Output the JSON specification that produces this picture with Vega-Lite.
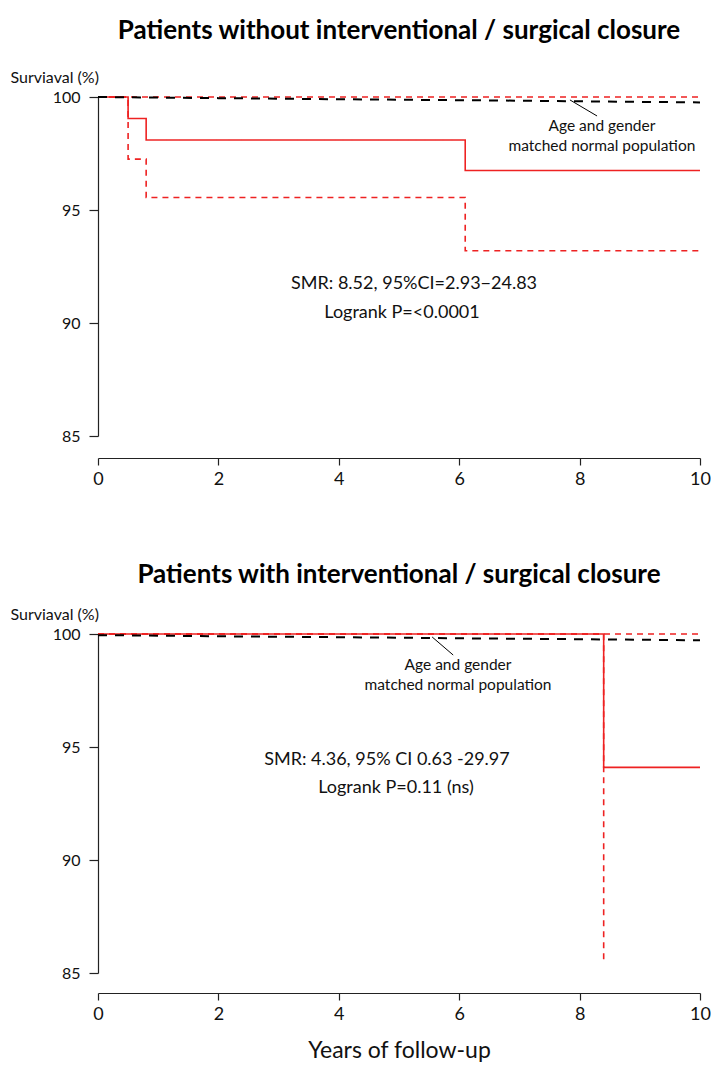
{
  "$schema": "https://vega.github.io/schema/vega-lite/v6.json",
  "background": "white",
  "padding": {"left": 10, "top": 18, "right": 0, "bottom": 0},
  "config": {
    "view": {"stroke": null},
    "font": "Lato",
    "axis": {"grid": false, "domainColor": "#222222", "tickColor": "#222222", "labelColor": "#111111", "titleColor": "#111111", "labelFont": "Lato", "titleFont": "Lato", "domainWidth": 1.2, "tickWidth": 1.2},
    "title": {"font": "Lato", "fontSize": 26, "fontWeight": "bold", "color": "#000000", "anchor": "middle"}
  },
  "datasets": {
    "curves": [
      {"panel": "top", "series": "km", "x": 0, "y": 100},
      {"panel": "top", "series": "km", "x": 0.5, "y": 99.05},
      {"panel": "top", "series": "km", "x": 0.8, "y": 98.1},
      {"panel": "top", "series": "km", "x": 6.1, "y": 96.75},
      {"panel": "top", "series": "km", "x": 10, "y": 96.75},
      {"panel": "top", "series": "lower", "x": 0, "y": 100},
      {"panel": "top", "series": "lower", "x": 0.5, "y": 97.25},
      {"panel": "top", "series": "lower", "x": 0.8, "y": 95.55},
      {"panel": "top", "series": "lower", "x": 6.1, "y": 93.2},
      {"panel": "top", "series": "lower", "x": 10, "y": 93.2},
      {"panel": "top", "series": "upper", "x": 0, "y": 100},
      {"panel": "top", "series": "upper", "x": 10, "y": 100},
      {"panel": "top", "series": "expected", "x": 0, "y": 100},
      {"panel": "top", "series": "expected", "x": 2, "y": 99.95},
      {"panel": "top", "series": "expected", "x": 4, "y": 99.9},
      {"panel": "top", "series": "expected", "x": 6, "y": 99.86},
      {"panel": "top", "series": "expected", "x": 8, "y": 99.81},
      {"panel": "top", "series": "expected", "x": 10, "y": 99.76},
      {"panel": "bottom", "series": "km", "x": 0, "y": 100},
      {"panel": "bottom", "series": "km", "x": 8.4, "y": 94.1},
      {"panel": "bottom", "series": "km", "x": 10, "y": 94.1},
      {"panel": "bottom", "series": "lower", "x": 0, "y": 100},
      {"panel": "bottom", "series": "lower", "x": 8.4, "y": 85.45},
      {"panel": "bottom", "series": "upper", "x": 0, "y": 100},
      {"panel": "bottom", "series": "upper", "x": 10, "y": 100},
      {"panel": "bottom", "series": "expected", "x": 0, "y": 99.95},
      {"panel": "bottom", "series": "expected", "x": 2, "y": 99.9},
      {"panel": "bottom", "series": "expected", "x": 4, "y": 99.86},
      {"panel": "bottom", "series": "expected", "x": 6, "y": 99.81},
      {"panel": "bottom", "series": "expected", "x": 8, "y": 99.77},
      {"panel": "bottom", "series": "expected", "x": 10, "y": 99.72}
    ],
    "notes": [
      {"panel": "top", "kind": "stat", "x": 5.25, "y": 91.73, "label": "SMR: 8.52, 95%CI=2.93\u221224.83"},
      {"panel": "top", "kind": "stat", "x": 5.05, "y": 90.44, "label": "Logrank P=<0.0001"},
      {"panel": "top", "kind": "note", "x": 8.37, "y": 98.72, "label": "Age and gender"},
      {"panel": "top", "kind": "note", "x": 8.37, "y": 97.83, "label": "matched normal population"},
      {"panel": "bottom", "kind": "stat", "x": 4.8, "y": 94.42, "label": "SMR: 4.36, 95% CI 0.63 -29.97"},
      {"panel": "bottom", "kind": "stat", "x": 4.95, "y": 93.19, "label": "Logrank P=0.11 (ns)"},
      {"panel": "bottom", "kind": "note", "x": 5.98, "y": 98.63, "label": "Age and gender"},
      {"panel": "bottom", "kind": "note", "x": 5.98, "y": 97.74, "label": "matched normal population"}
    ],
    "leaders": [
      {"panel": "top", "x": 7.84, "y": 99.87, "x2": 8.29, "y2": 99.16},
      {"panel": "bottom", "x": 5.55, "y": 99.87, "x2": 5.9, "y2": 99.07}
    ]
  },
  "spacing": 74,
  "vconcat": [
    {
      "width": 602,
      "height": 339,
      "title": {"text": "Patients without interventional / surgical closure", "offset": 25},
      "layer": [
        {
          "data": {"name": "curves"},
          "transform": [{"filter": "datum.panel === 'top' && datum.series !== 'expected'"}],
          "mark": {"type": "line", "interpolate": "step-after", "strokeWidth": 1.6, "color": "#ee2222"},
          "encoding": {
            "x": {"field": "x", "type": "quantitative", "scale": {"domain": [0, 10], "nice": false},
              "axis": {"values": [0, 2, 4, 6, 8, 10], "format": "d", "offset": 22, "tickSize": 7, "labelFontSize": 18, "labelPadding": 5, "labelFlush": false, "title": null}},
            "y": {"field": "y", "type": "quantitative", "scale": {"domain": [85, 100], "nice": false, "zero": false},
              "axis": {"values": [85, 90, 95, 100], "format": "d", "tickSize": 9, "labelFontSize": 16, "labelPadding": 9, "title": "Surviaval (%)", "titleAngle": 0, "titleAlign": "left", "titleBaseline": "middle", "titleX": -88, "titleY": -20, "titleFontSize": 16, "titleFontWeight": "normal"}},
            "strokeDash": {"field": "series", "type": "nominal", "scale": {"domain": ["lower", "upper", "km"], "range": [[6, 5], [6, 5], [1, 0]]}, "legend": null}
          }
        },
        {
          "data": {"name": "curves"},
          "transform": [{"filter": "datum.panel === 'top' && datum.series === 'expected'"}],
          "mark": {"type": "line", "strokeWidth": 2, "color": "#000000", "strokeDash": [9, 8]},
          "encoding": {
            "x": {"field": "x", "type": "quantitative"},
            "y": {"field": "y", "type": "quantitative"}
          }
        },
        {
          "data": {"name": "leaders"},
          "transform": [{"filter": "datum.panel === 'top'"}],
          "mark": {"type": "rule", "color": "#000000", "strokeWidth": 1},
          "encoding": {
            "x": {"field": "x", "type": "quantitative"},
            "y": {"field": "y", "type": "quantitative"},
            "x2": {"field": "x2"},
            "y2": {"field": "y2"}
          }
        },
        {
          "data": {"name": "notes"},
          "transform": [{"filter": "datum.panel === 'top' && datum.kind === 'stat'"}],
          "mark": {"type": "text", "align": "center", "baseline": "middle", "color": "#111111", "font": "Lato", "fontSize": 18},
          "encoding": {
            "x": {"field": "x", "type": "quantitative"},
            "y": {"field": "y", "type": "quantitative"},
            "text": {"field": "label"}
          }
        },
        {
          "data": {"name": "notes"},
          "transform": [{"filter": "datum.panel === 'top' && datum.kind === 'note'"}],
          "mark": {"type": "text", "align": "center", "baseline": "middle", "color": "#111111", "font": "Lato", "fontSize": 15.5},
          "encoding": {
            "x": {"field": "x", "type": "quantitative"},
            "y": {"field": "y", "type": "quantitative"},
            "text": {"field": "label"}
          }
        }
      ]
    },
    {
      "width": 602,
      "height": 339,
      "title": {"text": "Patients with interventional / surgical closure", "offset": 18},
      "layer": [
        {
          "data": {"name": "curves"},
          "transform": [{"filter": "datum.panel === 'bottom' && datum.series !== 'expected'"}],
          "mark": {"type": "line", "interpolate": "step-after", "strokeWidth": 1.6, "color": "#ee2222"},
          "encoding": {
            "x": {"field": "x", "type": "quantitative", "scale": {"domain": [0, 10], "nice": false},
              "axis": {"values": [0, 2, 4, 6, 8, 10], "format": "d", "offset": 20, "tickSize": 7, "labelFontSize": 18, "labelPadding": 5, "labelFlush": false, "title": "Years of follow-up", "titleFontSize": 23, "titleFontWeight": "normal", "titlePadding": 16}},
            "y": {"field": "y", "type": "quantitative", "scale": {"domain": [85, 100], "nice": false, "zero": false},
              "axis": {"values": [85, 90, 95, 100], "format": "d", "tickSize": 9, "labelFontSize": 16, "labelPadding": 9, "title": "Surviaval (%)", "titleAngle": 0, "titleAlign": "left", "titleBaseline": "middle", "titleX": -88, "titleY": -20, "titleFontSize": 16, "titleFontWeight": "normal"}},
            "strokeDash": {"field": "series", "type": "nominal", "scale": {"domain": ["lower", "upper", "km"], "range": [[6, 5], [6, 5], [1, 0]]}, "legend": null}
          }
        },
        {
          "data": {"name": "curves"},
          "transform": [{"filter": "datum.panel === 'bottom' && datum.series === 'expected'"}],
          "mark": {"type": "line", "strokeWidth": 2, "color": "#000000", "strokeDash": [9, 8]},
          "encoding": {
            "x": {"field": "x", "type": "quantitative"},
            "y": {"field": "y", "type": "quantitative"}
          }
        },
        {
          "data": {"name": "leaders"},
          "transform": [{"filter": "datum.panel === 'bottom'"}],
          "mark": {"type": "rule", "color": "#000000", "strokeWidth": 1},
          "encoding": {
            "x": {"field": "x", "type": "quantitative"},
            "y": {"field": "y", "type": "quantitative"},
            "x2": {"field": "x2"},
            "y2": {"field": "y2"}
          }
        },
        {
          "data": {"name": "notes"},
          "transform": [{"filter": "datum.panel === 'bottom' && datum.kind === 'stat'"}],
          "mark": {"type": "text", "align": "center", "baseline": "middle", "color": "#111111", "font": "Lato", "fontSize": 18},
          "encoding": {
            "x": {"field": "x", "type": "quantitative"},
            "y": {"field": "y", "type": "quantitative"},
            "text": {"field": "label"}
          }
        },
        {
          "data": {"name": "notes"},
          "transform": [{"filter": "datum.panel === 'bottom' && datum.kind === 'note'"}],
          "mark": {"type": "text", "align": "center", "baseline": "middle", "color": "#111111", "font": "Lato", "fontSize": 15.5},
          "encoding": {
            "x": {"field": "x", "type": "quantitative"},
            "y": {"field": "y", "type": "quantitative"},
            "text": {"field": "label"}
          }
        }
      ]
    }
  ]
}
